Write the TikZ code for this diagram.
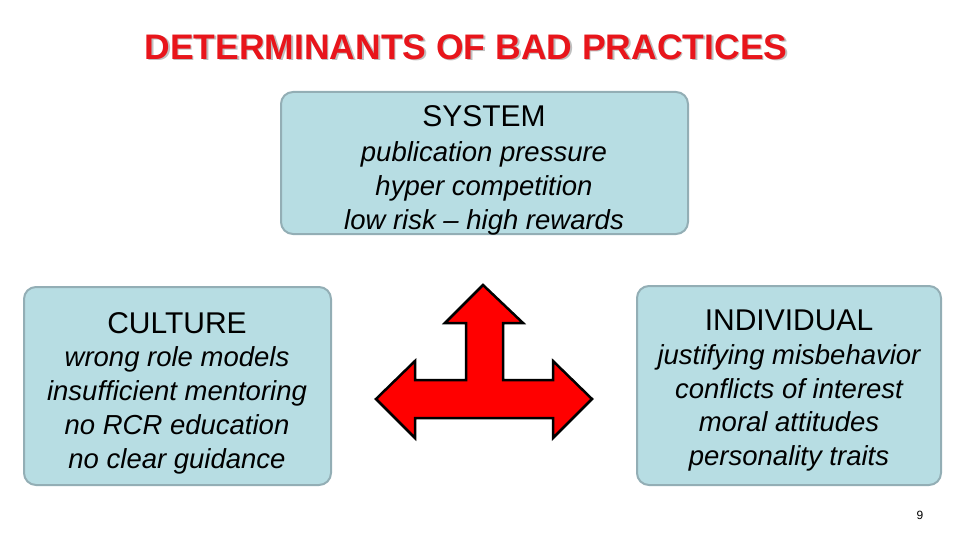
\documentclass[tikz,border=0pt]{standalone}
\usepackage{fontspec}
\setmainfont{Liberation Sans}
\begin{document}
\begin{tikzpicture}[x=1pt,y=-1pt,
 box/.style={draw=boxline,line width=2pt,fill=boxfill,rounded corners=12pt},
 hd/.style={font=\fontsize{30}{34}\selectfont,anchor=base},
 it/.style={font=\fontsize{27.5}{34}\selectfont\itshape,anchor=base}]
\definecolor{boxfill}{HTML}{B7DDE3}
\definecolor{boxline}{HTML}{93AEB5}
\definecolor{tred}{HTML}{E8151B}
\useasboundingbox (0,0) rectangle (960,540);
\node[font=\fontsize{35.5}{38}\selectfont\bfseries,text=black!25,anchor=base] (ts) at (467.5,61) {DETERMINANTS OF BAD PRACTICES};
\node[font=\fontsize{35.5}{38}\selectfont\bfseries,text=tred,anchor=base] (title) at (466,60) {DETERMINANTS OF BAD PRACTICES};
\draw[box] (281,92) rectangle (688,234);
\node[hd] (sys) at (484,127) {SYSTEM};
\node[it] (s1) at (484,161) {publication pressure};
\node[it] (s2) at (484,195) {hyper competition};
\node[it] (s3) at (484,229) {low risk -- high rewards};
\draw[box] (24,287) rectangle (331,485);
\node[hd] (cul) at (177,333) {CULTURE};
\node[it] (c1) at (177,366) {wrong role models};
\node[it] (c2) at (177,400) {insufficient mentoring};
\node[it] (c3) at (177,434) {no RCR education};
\node[it] (c4) at (177,468) {no clear guidance};
\draw[box] (637,286) rectangle (941,485);
\node[hd] (ind) at (789,330) {INDIVIDUAL};
\node[it] (i1) at (789,364) {justifying misbehavior};
\node[it] (i2) at (789,398) {conflicts of interest};
\node[it] (i3) at (789,431) {moral attitudes};
\node[it] (i4) at (789,465) {personality traits};
\draw[line width=2.5pt,fill=red,line join=miter] (483,285) -- (523,323) -- (503,323) -- (503,380) -- (553,380) -- (553,361) -- (592,399) -- (553,438) -- (553,418) -- (415,418) -- (415,438) -- (376,399) -- (415,361) -- (415,380) -- (466,380) -- (466,323) -- (445,323) -- cycle;
\node[font=\fontsize{12}{14}\selectfont] (pg) at (920,515) {9};
\end{tikzpicture}
\end{document}
